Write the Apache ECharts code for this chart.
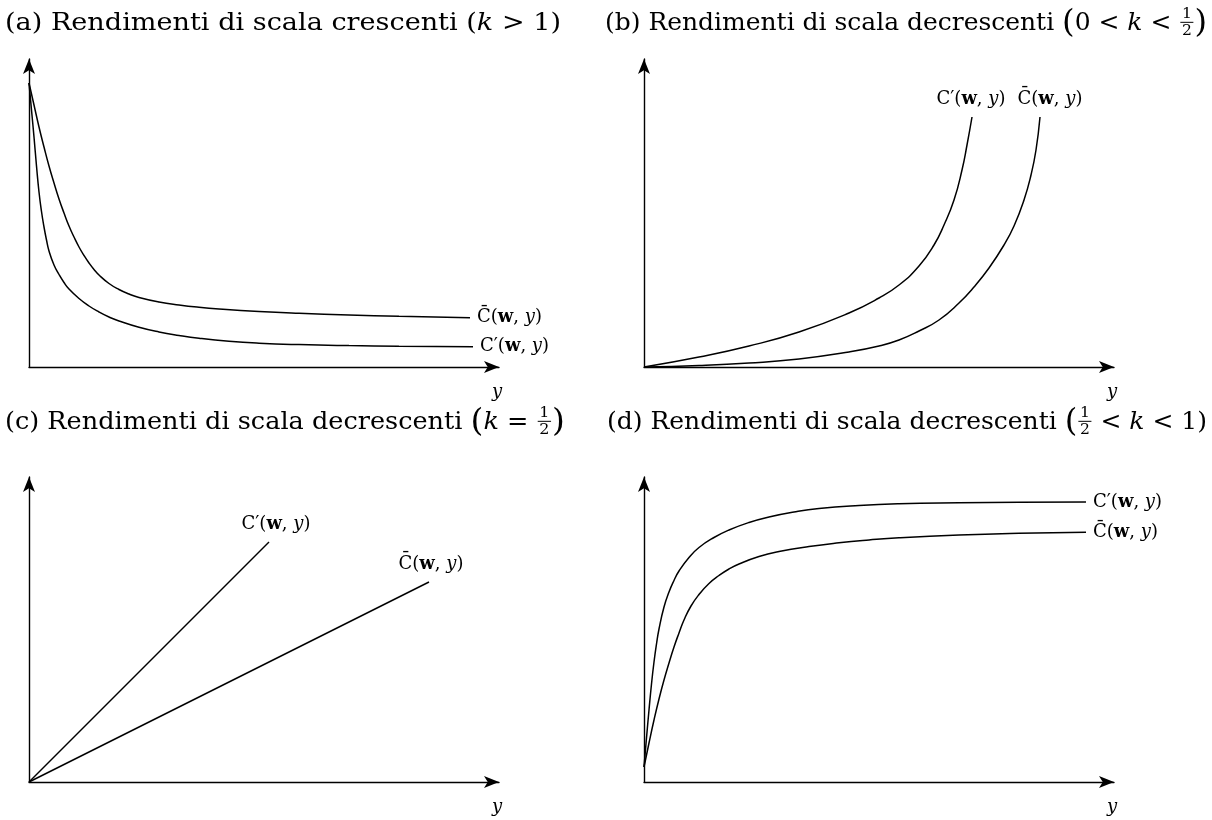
<!DOCTYPE html>
<html>
<head>
<meta charset="utf-8">
<script src="https://cdn.jsdelivr.net/npm/echarts@6/dist/echarts.min.js"></script>
<style>
  html, body { margin: 0; padding: 0; background: #fff; }
  #chart { width: 1212px; height: 820px; }
</style>
</head>
<body>
<div id="chart"></div>
<script>
// Cost curves under different returns to scale: average cost C̄(w,y) and marginal cost C'(w,y)

// (a) increasing returns (k > 1)
const aAvg = [[0, 28.4], [0.5, 26.2], [1, 24.0], [1.5, 22.0], [2, 20.1], [2.5, 18.4], [3, 16.8], [3.5, 15.4], [4, 14.1], [4.5, 13.0], [5, 12.0], [5.5, 11.15], [6, 10.4], [6.5, 9.75], [7, 9.2], [8, 8.35], [9, 7.75], [10, 7.3], [11, 6.95], [13, 6.5], [15, 6.2], [17, 5.97], [19, 5.8], [23, 5.55], [27, 5.37], [32, 5.2], [37, 5.07], [44.1, 4.92]];
const aMarg = [[0, 28.4], [0.25, 25.7], [0.5, 23.0], [0.75, 20.1], [1, 17.5], [1.25, 15.55], [1.5, 14.0], [1.75, 12.7], [2, 11.6], [2.5, 10.2], [3, 9.25], [3.5, 8.45], [4, 7.8], [5, 6.85], [6, 6.1], [7, 5.5], [8, 5.0], [9, 4.6], [11, 3.97], [13, 3.5], [15, 3.15], [17, 2.87], [20, 2.57], [23, 2.38], [27, 2.24], [32, 2.14], [37, 2.08], [44.4, 2.02]];

// (b) decreasing returns (0 < k < 1/2)
const bMarg = [[0, 0], [5.5, 1.0], [10.5, 2.1], [15.5, 3.5], [20.5, 5.4], [23.5, 6.9], [25.5, 8.2], [27.5, 10.1], [29, 12.2], [30, 14.2], [31, 16.7], [31.8, 19.7], [32.3, 22.2], [32.8, 25]];
const bAvg = [[0, 0], [5.5, 0.15], [10.5, 0.4], [15.5, 0.8], [20.5, 1.5], [23.5, 2.1], [25.5, 2.7], [27.5, 3.6], [29.5, 4.7], [31.5, 6.4], [33, 8.0], [34.5, 9.9], [36, 12.2], [37, 14.1], [38, 16.7], [38.7, 19.2], [39.2, 21.7], [39.6, 25]];

// (c) decreasing returns (k = 1/2): straight lines through the origin
const cMarg = [[0, 0], [24, 24]];
const cAvg = [[0, 0], [40, 20]];

// (d) decreasing returns (1/2 < k < 1)
const dMarg = [[0, 1.5], [0.25, 4.4], [0.5, 7.2], [0.75, 9.8], [1, 12.0], [1.25, 13.8], [1.5, 15.3], [2, 17.5], [2.5, 19.0], [3, 20.15], [3.5, 21.1], [4.5, 22.45], [5.5, 23.45], [7, 24.45], [8.5, 25.2], [10.5, 25.95], [12.5, 26.5], [15, 27.0], [17.5, 27.35], [21.5, 27.65], [25.5, 27.82], [31.5, 27.92], [37.5, 27.97], [44.2, 28.0]];
const dAvg = [[0, 1.5], [0.5, 3.9], [1, 6.2], [1.5, 8.3], [2, 10.2], [2.5, 11.9], [3, 13.5], [3.5, 14.9], [4, 16.2], [4.7, 17.6], [5.5, 18.75], [6.5, 19.85], [7.5, 20.65], [8.5, 21.3], [9.5, 21.8], [11.5, 22.55], [13.5, 23.05], [16.5, 23.55], [19.5, 23.92], [22.5, 24.2], [25.5, 24.42], [31.5, 24.7], [37.5, 24.87], [44.2, 24.97]];

// Curve names and axis name
const AVG_LABEL = '{n|C\u0304(}{b|w}{n|, }{i|y}{n|)}';
const MARG_LABEL = '{n|C\u2032(}{b|w}{n|, }{i|y}{n|)}';
const X_NAME = 'y';

// Panel titles, split into plain / italic / enlarged / fraction pieces
const titleA = [{ t: '(a) Rendimenti di scala crescenti (' }, { t: 'k', i: true }, { t: ' > 1)' }];
const titleB = [{ t: '(b) Rendimenti di scala decrescenti ' }, { t: '(', big: true }, { t: '0 < ' }, { t: 'k', i: true }, { t: ' < ' }, { frac: ['1', '2'] }, { t: ')', big: true }];
const titleC = [{ t: '(c) Rendimenti di scala decrescenti ' }, { t: '(', big: true }, { t: 'k', i: true }, { t: ' = ' }, { frac: ['1', '2'] }, { t: ')', big: true }];
const titleD = [{ t: '(d) Rendimenti di scala decrescenti ' }, { t: '(', big: true }, { frac: ['1', '2'] }, { t: ' < ' }, { t: 'k', i: true }, { t: ' < 1)' }];

const SERIF = '"DejaVu Serif", "Liberation Serif", serif';
const INK = '#000';
const TITLE_SIZE = 24;

const measureCtx = document.createElement('canvas').getContext('2d');
function textWidth(s, size, style) {
  measureCtx.font = (style || 'normal') + ' ' + size + 'px ' + SERIF;
  return measureCtx.measureText(s).width;
}

// Lays out a title piece by piece around (0, 0); returns the elements and the total width
function layoutTitle(parts, size) {
  const els = [];
  let x = 0;
  parts.forEach(function (p) {
    if (p.frac) {
      const fs = Math.round(size * 0.62);
      const w = Math.max(textWidth(p.frac[0], fs), textWidth(p.frac[1], fs)) + 3;
      const cx = x + 1 + w / 2;
      els.push({ type: 'text', x: cx, y: -size * 0.40, style: { text: p.frac[0], fontSize: fs, fontFamily: SERIF, fill: INK, align: 'center', verticalAlign: 'middle' } });
      els.push({ type: 'text', x: cx, y: size * 0.30, style: { text: p.frac[1], fontSize: fs, fontFamily: SERIF, fill: INK, align: 'center', verticalAlign: 'middle' } });
      els.push({ type: 'line', shape: { x1: x + 1, y1: -size * 0.07, x2: x + 1 + w, y2: -size * 0.07 }, style: { stroke: INK, lineWidth: 1 } });
      x += w + 2;
    } else {
      const fs = p.big ? Math.round(size * 1.3) : size;
      const st = p.i ? 'italic' : 'normal';
      els.push({ type: 'text', x: x, y: 0, style: { text: p.t, fontSize: fs, fontStyle: st, fontFamily: SERIF, fill: INK, align: 'left', verticalAlign: 'middle' } });
      x += textWidth(p.t, fs, st);
    }
  });
  return { els: els, width: x };
}

// Title set at a common size, stretched to span x0..x1
function titleGraphic(parts, x0, x1, yc) {
  const lay = layoutTitle(parts, TITLE_SIZE);
  return { type: 'group', x: x0, y: yc, scaleX: (x1 - x0) / lay.width, silent: true, children: lay.els };
}

const RICH = {
  n: { fontFamily: SERIF, fontSize: 18, color: INK },
  b: { fontFamily: SERIF, fontSize: 18, fontWeight: 'bold', color: INK },
  i: { fontFamily: SERIF, fontSize: 18, fontStyle: 'italic', color: INK }
};

const grids = [
  { left: 29, top: 59, width: 470, height: 308 },
  { left: 644, top: 59, width: 470, height: 308 },
  { left: 29, top: 477, width: 470, height: 305 },
  { left: 644, top: 477, width: 470, height: 305 }
];
const yMax = [30.8, 30.8, 30.5, 30.5];

const arrowLine = {
  show: true, onZero: false,
  symbol: ['none', 'arrow'], symbolSize: [9, 15],
  lineStyle: { color: INK, width: 1.4 }
};

const xAxes = grids.map(function (g, k) {
  return {
    type: 'value', gridIndex: k, min: 0, max: 47,
    axisLine: arrowLine, axisTick: { show: false }, axisLabel: { show: false }, splitLine: { show: false },
    name: X_NAME, nameLocation: 'end', nameGap: -2,
    nameTextStyle: { fontFamily: SERIF, fontStyle: 'italic', fontSize: 18, color: INK, align: 'center', verticalAlign: 'top', padding: [16, 0, 0, 0] }
  };
});
const yAxes = grids.map(function (g, k) {
  return {
    type: 'value', gridIndex: k, min: 0, max: yMax[k],
    axisLine: arrowLine, axisTick: { show: false }, axisLabel: { show: false }, splitLine: { show: false }
  };
});

function curve(k, pts, text, above, dx) {
  return {
    type: 'line', xAxisIndex: k, yAxisIndex: k, data: pts,
    showSymbol: false, symbol: 'none', smooth: pts.length > 2 ? 0.5 : false,
    lineStyle: { color: INK, width: 1.5 }, silent: true, animation: false,
    endLabel: above
      ? { show: true, formatter: text, rich: RICH, align: 'center', verticalAlign: 'bottom', distance: 0, offset: [dx || 0, -9] }
      : { show: true, formatter: text, rich: RICH, distance: 7 }
  };
}

const series = [
  curve(0, aAvg, AVG_LABEL, false),
  curve(0, aMarg, MARG_LABEL, false),
  curve(1, bMarg, MARG_LABEL, true, -1),
  curve(1, bAvg, AVG_LABEL, true, 10),
  curve(2, cMarg, MARG_LABEL, true, 7),
  curve(2, cAvg, AVG_LABEL, true, 2),
  curve(3, dMarg, MARG_LABEL, false),
  curve(3, dAvg, AVG_LABEL, false)
];

const graphic = [
  titleGraphic(titleA, 5, 561, 24),
  titleGraphic(titleB, 605, 1207, 24),
  titleGraphic(titleC, 5, 565, 423),
  titleGraphic(titleD, 607, 1207, 423)
];

const chart = echarts.init(document.getElementById('chart'), null, { renderer: 'canvas' });
chart.setOption({
  backgroundColor: '#fff',
  animation: false,
  grid: grids,
  xAxis: xAxes,
  yAxis: yAxes,
  series: series,
  graphic: graphic
});
</script>
</body>
</html>
